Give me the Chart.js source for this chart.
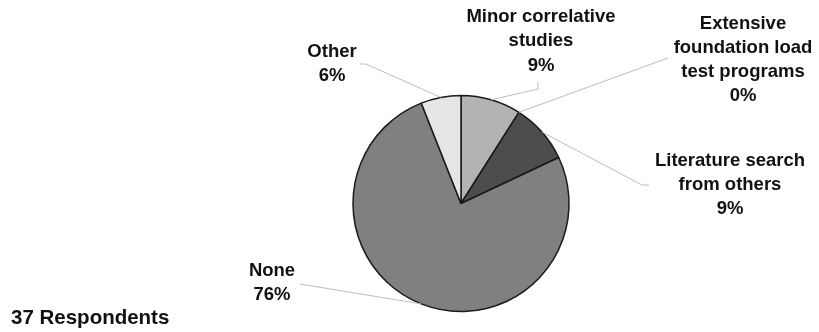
<!DOCTYPE html>
<html>
<head>
<meta charset="utf-8">
<script src="https://cdn.jsdelivr.net/npm/chart.js@4.4.1/dist/chart.umd.min.js"></script>
<style>
  body { margin: 0; background: #fff; }
  #wrap { width: 819px; height: 332px; position: relative; }
</style>
</head>
<body>
<div id="wrap"><canvas id="pieChart"></canvas></div>
<script>
// Chart data
const categories = ['Minor correlative studies', 'Extensive foundation load test programs', 'Literature search from others', 'None', 'Other'];
const percents = [9, 0, 9, 76, 6];
const sliceColors = ['#b3b3b3', '#e0e0e0', '#4d4d4d', '#808080', '#e6e6e6'];
const respondents = 37;

// label text lines and where they sit (leader anchor points lead into the slice edge)
const labelLayout = [
  { lines: ['Minor correlative', 'studies'], x: 541, y: 17, leader: [[538, 82], [538, 89]] },
  { lines: ['Extensive', 'foundation load', 'test programs'], x: 743, y: 23.5, leader: [[668, 58]] },
  { lines: ['Literature search', 'from others'], x: 730, y: 160.5, leader: [[649, 185], [642, 185]] },
  { lines: ['None'], x: 272, y: 270.5, leader: [[300, 284]] },
  { lines: ['Other'], x: 332, y: 51.5, leader: [[360, 64], [366, 64]] }
];

const FONT = 'bold 18.5px "Liberation Sans", Arial, sans-serif';
const LINE_H = 24.3;

// draws labels + leader lines after the pie
const pieLabels = {
  id: 'pieLabels',
  afterDraw(chart) {
    const ctx = chart.ctx;
    const arcs = chart.getDatasetMeta(0).data;
    ctx.save();
    arcs.forEach((arc, i) => {
      const spec = labelLayout[i];
      const mid = (arc.startAngle + arc.endAngle) / 2;
      const ex = arc.x + Math.cos(mid) * arc.outerRadius;
      const ey = arc.y + Math.sin(mid) * arc.outerRadius;
      ctx.strokeStyle = '#bdbdbd';
      ctx.lineWidth = 1;
      ctx.beginPath();
      ctx.moveTo(spec.leader[0][0], spec.leader[0][1]);
      for (let k = 1; k < spec.leader.length; k++) ctx.lineTo(spec.leader[k][0], spec.leader[k][1]);
      ctx.lineTo(ex, ey);
      ctx.stroke();

      ctx.fillStyle = '#111';
      ctx.font = FONT;
      ctx.textAlign = 'center';
      ctx.textBaseline = 'middle';
      const lines = spec.lines.concat([percents[i] + '%']);
      lines.forEach((t, j) => ctx.fillText(t, spec.x, spec.y + j * LINE_H));
    });
    ctx.font = 'bold 20.5px "Liberation Sans", Arial, sans-serif';
    ctx.textAlign = 'left';
    ctx.textBaseline = 'middle';
    ctx.fillStyle = '#111';
    ctx.fillText(respondents + ' Respondents', 11, 318);
    ctx.restore();
  }
};

new Chart(document.getElementById('pieChart'), {
  type: 'pie',
  data: {
    labels: categories,
    datasets: [{
      data: percents,
      backgroundColor: sliceColors,
      borderColor: '#1a1a1a',
      borderWidth: 1.5
    }]
  },
  options: {
    responsive: true,
    maintainAspectRatio: false,
    animation: false,
    radius: 108,
    layout: { padding: { left: 103, right: 0, top: 75, bottom: 0 } },
    plugins: {
      legend: { display: false },
      tooltip: { enabled: false }
    }
  },
  plugins: [pieLabels]
});
</script>
</body>
</html>
